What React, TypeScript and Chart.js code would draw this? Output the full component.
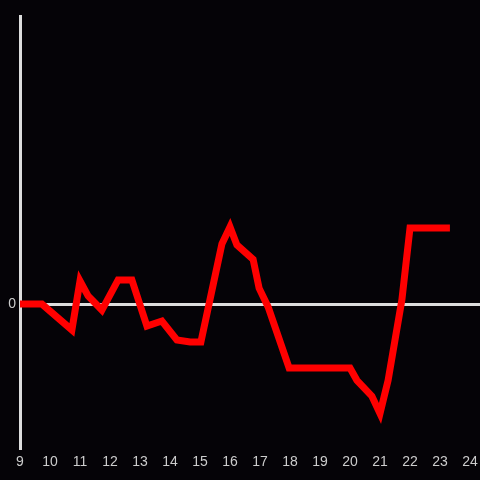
import React, { useEffect, useRef } from "react";
import { Chart, registerables } from "chart.js";

Chart.register(...registerables);

const hours: number[] = [9, 9.73, 10.73, 11, 11.27, 11.73, 12.27, 12.73, 13.23, 13.73, 14.23, 14.67, 15.03, 15.73, 16, 16.23, 16.77, 16.97, 17.27, 17.97, 20, 20.23, 20.73, 21, 21.27, 21.73, 22, 23.33];
const values: number[] = [0, 0, -0.18, 0.16, 0.056, -0.042, 0.167, 0.167, -0.153, -0.118, -0.25, -0.264, -0.264, 0.417, 0.535, 0.41, 0.31, 0.11, -0.02, -0.444, -0.444, -0.53, -0.64, -0.76, -0.53, 0.03, 0.528, 0.528];
const xTickValues: number[] = [9, 10, 11, 12, 13, 14, 15, 16, 17, 18, 19, 20, 21, 22, 23, 24];
const yTickLabels: string[] = ["0"];

export default function App() {
  const ref = useRef<HTMLCanvasElement | null>(null);
  useEffect(() => {
    document.body.style.margin = "0";
    document.body.style.background = "#050307";
    const ctx = ref.current!.getContext("2d")!;
    const chart = new Chart(ctx, {
      type: "line",
      data: {
        datasets: [
          {
            data: hours.map((h, i) => ({ x: h, y: values[i] })),
            borderColor: "#ff0000",
            borderWidth: 7,
            borderJoinStyle: "miter",
            pointRadius: 0,
            tension: 0,
            fill: false,
          },
        ],
      },
      options: {
        responsive: false,
        animation: false,
        layout: { padding: { top: 16, left: 0, right: 0, bottom: 0 } },
        plugins: { legend: { display: false }, tooltip: { enabled: false } },
        scales: {
          x: {
            type: "linear",
            min: 9,
            max: 24.333,
            afterBuildTicks: (scale: any) => {
              scale.ticks = xTickValues.map((v) => ({ value: v }));
            },
            afterFit: (scale: any) => {
              scale.height = 32;
              scale.paddingLeft = 0;
              scale.paddingRight = 0;
            },
            grid: { display: false, drawTicks: false },
            border: { display: false },
            ticks: {
              color: "#cccccc",
              font: { size: 14, family: "'Liberation Sans', Arial, sans-serif" },
              padding: 6,
              autoSkip: false,
              maxRotation: 0,
            },
          },
          y: {
            type: "linear",
            min: -1,
            max: 2,
            afterBuildTicks: (scale: any) => {
              scale.ticks = [-1, 0, 1, 2].map((v) => ({ value: v }));
            },
            afterFit: (scale: any) => {
              scale.width = 20;
              scale.paddingTop = 0;
              scale.paddingBottom = 0;
            },
            grid: {
              drawTicks: false,
              lineWidth: 3,
              color: (c: any) => (c.tick && c.tick.value === 0 ? "#dddddd" : "rgba(0,0,0,0)"),
            },
            border: { display: true, color: "#dddddd", width: 3 },
            ticks: {
              color: "#cccccc",
              font: { size: 14, family: "'Liberation Sans', Arial, sans-serif" },
              padding: 4,
              callback: (v: any) => (yTickLabels.includes(String(v)) ? String(v) : ""),
            },
          },
        },
      },
    });
    return () => chart.destroy();
  }, []);
  return (
    <div style={{ width: 480, height: 480, background: "#050307" }}>
      <canvas ref={ref} width={480} height={480} />
    </div>
  );
}
